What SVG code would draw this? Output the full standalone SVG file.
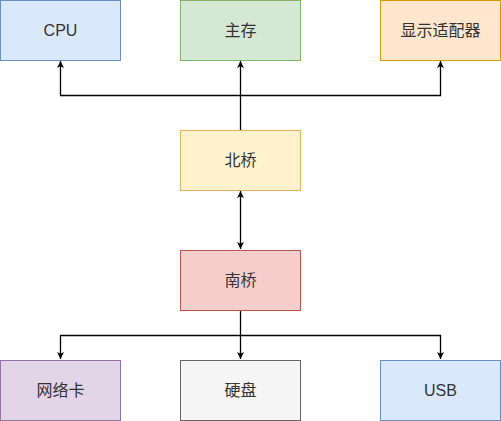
<svg xmlns="http://www.w3.org/2000/svg" width="501" height="421" viewBox="0 0 501 421">
<defs>
<marker id="ah" viewBox="0 0 10 10" refX="10" refY="5" markerWidth="7" markerHeight="7" markerUnits="userSpaceOnUse" orient="auto-start-reverse">
<path d="M0,0 L10,5 L0,10 L2.5,5 Z" fill="#000"/>
</marker>
</defs>
<style>
rect{stroke-width:1}
text{font-family:"Liberation Sans","Noto Sans CJK SC",sans-serif;font-size:16px;fill:#333;text-anchor:middle;dominant-baseline:central}
.c{fill:none;stroke:#000;stroke-width:1.3}
</style>
<rect width="501" height="421" fill="#fff"/>
<g id="connectors">
<path class="c" d="M240.5,130 L240.5,61" marker-end="url(#ah)"/>
<path class="c" d="M240.5,95.5 L60.5,95.5 L60.5,61" marker-end="url(#ah)"/>
<path class="c" d="M240.5,95.5 L440.5,95.5 L440.5,61" marker-end="url(#ah)"/>
<path class="c" d="M240.5,191 L240.5,249" marker-start="url(#ah)" marker-end="url(#ah)"/>
<path class="c" d="M240.5,310 L240.5,359" marker-end="url(#ah)"/>
<path class="c" d="M240.5,335.5 L60.5,335.5 L60.5,359" marker-end="url(#ah)"/>
<path class="c" d="M240.5,335.5 L440.5,335.5 L440.5,359" marker-end="url(#ah)"/>
</g>
<g id="cpu"><rect x="0.5" y="0.5" width="120" height="60" fill="#dae8fc" stroke="#6c8ebf"/><text x="60.5" y="30.5">CPU</text></g>
<g id="mem"><rect x="180.5" y="0.5" width="120" height="60" fill="#d5e8d4" stroke="#82b366"/><text x="240.5" y="30.5">主存</text></g>
<g id="gpu"><rect x="380.5" y="0.5" width="120" height="60" fill="#ffe6cc" stroke="#d79b00"/><text x="440.5" y="30.5">显示适配器</text></g>
<g id="north"><rect x="180.5" y="130.5" width="120" height="60" fill="#fff2cc" stroke="#d6b656"/><text x="240.5" y="160.5">北桥</text></g>
<g id="south"><rect x="180.5" y="250.5" width="120" height="60" fill="#f8cecc" stroke="#b85450"/><text x="240.5" y="280.5">南桥</text></g>
<g id="nic"><rect x="0.5" y="360.5" width="120" height="60" fill="#e1d5e7" stroke="#9673a6"/><text x="60.5" y="390.5">网络卡</text></g>
<g id="disk"><rect x="180.5" y="360.5" width="120" height="60" fill="#f5f5f5" stroke="#666666"/><text x="240.5" y="390.5">硬盘</text></g>
<g id="usb"><rect x="380.5" y="360.5" width="120" height="60" fill="#dae8fc" stroke="#6c8ebf"/><text x="440.5" y="390.5">USB</text></g>
</svg>
